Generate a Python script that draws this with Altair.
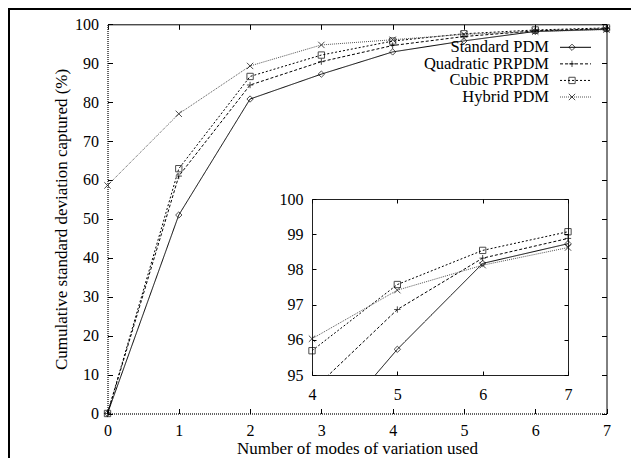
import altair as alt
import pandas as pd

# ---------------- data ----------------
modes = [0, 1, 2, 3, 4, 5, 6, 7]
series_names = ["Standard PDM", "Quadratic PRPDM", "Cubic PRPDM", "Hybrid PDM"]
standard_pdm = [0.0, 51.0, 80.8, 87.2, 92.9, 95.73, 98.17, 98.73]
quadratic_prpdm = [0.0, 61.0, 84.4, 90.4, 94.55, 96.86, 98.32, 98.88]
cubic_prpdm = [0.0, 62.9, 86.6, 92.1, 95.69, 97.57, 98.54, 99.07]
hybrid_pdm = [58.6, 77.0, 89.3, 94.7, 96.03, 97.41, 98.12, 98.62]

main_x_ticks = [0, 1, 2, 3, 4, 5, 6, 7]
main_y_ticks = [0, 10, 20, 30, 40, 50, 60, 70, 80, 90, 100]
inset_x_ticks = [4, 5, 6, 7]
inset_y_ticks = [95, 96, 97, 98, 99, 100]

rows = []
for name, vals in zip(series_names, [standard_pdm, quadratic_prpdm, cubic_prpdm, hybrid_pdm]):
    for m, v in zip(modes, vals):
        rows.append({"modes": m, "series": name, "value": v})
df = pd.DataFrame(rows)
leg_df = pd.DataFrame({"series": series_names})

FONT = "Liberation Serif"

# view = inset box; main plot drawn around it through explicit scale ranges
W, H = 256, 176
main_x_scale = alt.Scale(domain=[0, 7], range=[-204.5, 294.5], nice=False, zero=False)
main_y_scale = alt.Scale(domain=[0, 100], range=[214.5, -174.7], nice=False, zero=False)
inset_x_scale = alt.Scale(domain=[4, 7], range=[0, W], nice=False, zero=False)
inset_y_scale = alt.Scale(domain=[95, 100], range=[H, 0], nice=False, zero=False)

color_scale = alt.Scale(domain=series_names, range=["black", "black", "black", "#555555"])
dash_scale = alt.Scale(domain=series_names, range=[[1, 0], [3, 2], [2, 2], [1, 1]])
plus_path = "M-1,0H1M0,-1V1"
x_path = "M-1,-1L1,1M-1,1L1,-1"
shape_scale = alt.Scale(domain=series_names, range=["diamond", plus_path, "square", x_path])

color_enc = alt.Color("series:N", scale=color_scale, legend=None)
dash_enc = alt.StrokeDash("series:N", scale=dash_scale, legend=None)
shape_enc = alt.Shape("series:N", scale=shape_scale, legend=None)


def axis(**kw):
    base = dict(grid=False, labelFont=FONT, labelFontSize=16, labelColor="black",
                titleFont=FONT, titleFontSize=17, titleFontWeight="normal", titleColor="black",
                tickColor="black", tickWidth=1, domainColor="black", domainWidth=1,
                labelFlush=False, labelOverlap=False)
    base.update(kw)
    return alt.Axis(**base)


def tick_axis(orient, offset, values, size, domain=False):
    return axis(orient=orient, offset=offset, values=values, labels=False, domain=domain,
                ticks=True, tickSize=size, title=None)


# ---------------- main plot ----------------
main_lines = alt.Chart(df).mark_line(strokeWidth=1, clip=False).encode(
    x=alt.X("modes:Q", scale=main_x_scale,
            axis=axis(orient="bottom", offset=38.5, values=main_x_ticks, ticks=False, tickSize=0,
                      labelPadding=9, domain=True, domainDash=[1, 1], domainWidth=1.5,
                      domainColor="#333333", title="Number of modes of variation used",
                      titlePadding=2)),
    y=alt.Y("value:Q", scale=main_y_scale,
            axis=axis(orient="left", offset=204.5, values=main_y_ticks, ticks=False, tickSize=0,
                      labelPadding=9, domain=True, domainDash=[1, 1], domainWidth=1.5,
                      domainColor="#333333", title="Cumulative standard deviation captured (%)",
                      titlePadding=4)),
    color=color_enc,
    strokeDash=dash_enc,
    detail="series:N",
)
main_points = alt.Chart(df).mark_point(filled=False, size=40, strokeWidth=1, color="black", clip=False).encode(
    x=alt.X("modes:Q", scale=main_x_scale, axis=tick_axis("top", -214.5, main_x_ticks, 5)),
    y=alt.Y("value:Q", scale=main_y_scale, axis=tick_axis("right", -460.5, main_y_ticks, 5)),
    shape=shape_enc,
)
main_ghost = alt.Chart(df).mark_point(opacity=0, clip=False).encode(
    x=alt.X("modes:Q", scale=main_x_scale, axis=tick_axis("bottom", -350.7, main_x_ticks, 5, True)),
    y=alt.Y("value:Q", scale=main_y_scale, axis=tick_axis("left", -294.5, main_y_ticks, 5, True)),
)
main_group = alt.layer(main_lines, main_points, main_ghost).resolve_axis(x="independent", y="independent")

# ---------------- inset ----------------
inset_lines = alt.Chart(df).transform_filter(alt.datum.modes >= 4).mark_line(strokeWidth=1, clip=True).encode(
    x=alt.X("modes:Q", scale=inset_x_scale,
            axis=axis(orient="bottom", offset=0, values=inset_x_ticks, ticks=False, tickSize=0,
                      labelPadding=11, domain=False, title=None)),
    y=alt.Y("value:Q", scale=inset_y_scale,
            axis=axis(orient="left", offset=0, values=inset_y_ticks, ticks=False, tickSize=0,
                      labelPadding=9, domain=False, title=None)),
    color=color_enc,
    strokeDash=dash_enc,
    detail="series:N",
)
inset_points = alt.Chart(df).transform_filter(
    (alt.datum.modes >= 4) & (alt.datum.value >= 95)
).mark_point(filled=False, size=40, strokeWidth=1, color="black", clip=False).encode(
    x=alt.X("modes:Q", scale=inset_x_scale, axis=tick_axis("top", -H, inset_x_ticks, 4)),
    y=alt.Y("value:Q", scale=inset_y_scale, axis=tick_axis("right", -W, inset_y_ticks, 4)),
    shape=shape_enc,
)
inset_ghost = alt.Chart(df).transform_filter(alt.datum.modes >= 4).mark_point(opacity=0, clip=False).encode(
    x=alt.X("modes:Q", scale=inset_x_scale, axis=tick_axis("bottom", -H, inset_x_ticks, 4)),
    y=alt.Y("value:Q", scale=inset_y_scale, axis=tick_axis("left", -W, inset_y_ticks, 4)),
)
inset_group = alt.layer(inset_lines, inset_points, inset_ghost).resolve_axis(x="independent", y="independent")

# ---------------- legend (gnuplot style) ----------------
leg_y = alt.Y("series:N", scale=alt.Scale(type="point", domain=series_names,
                                          range=[-151.7, -102], padding=0), axis=None)
leg_text = alt.Chart(leg_df).mark_text(align="right", baseline="middle", font=FONT,
                                       fontSize=16.5, color="black").encode(
    x=alt.value(237), y=leg_y, text="series:N")
leg_rule = alt.Chart(leg_df).mark_rule(strokeWidth=1).encode(
    x=alt.value(248), x2=alt.value(279), y=leg_y, color=color_enc, strokeDash=dash_enc)
leg_pts = alt.Chart(leg_df).mark_point(filled=False, size=40, strokeWidth=1, color="black").encode(
    x=alt.value(260), y=leg_y, shape=shape_enc)
legend_group = alt.layer(leg_text, leg_rule, leg_pts)

# ---------------- outer frame (top and left edges only are visible) ----------------
frame_df = pd.DataFrame({"k": [0]})
frame_top = alt.Chart(frame_df).mark_rule(color="black", strokeWidth=2, clip=False).encode(
    x=alt.value(-304), x2=alt.value(330), y=alt.value(-190))
frame_left = alt.Chart(frame_df).mark_rule(color="black", strokeWidth=2, clip=False).encode(
    x=alt.value(-303), y=alt.value(-191), y2=alt.value(270))

chart = alt.layer(frame_top, frame_left, main_group, inset_group, legend_group).resolve_scale(
    x="independent", y="independent"
).properties(
    width=W, height=H,
    autosize=alt.AutoSizeParams(type="none"),
    padding={"left": 304, "top": 191, "right": 63, "bottom": 83},
    background="white",
).configure_view(stroke="#222222", strokeWidth=1)

chart.save("out.html", embed_options={"renderer": "svg", "actions": False})
